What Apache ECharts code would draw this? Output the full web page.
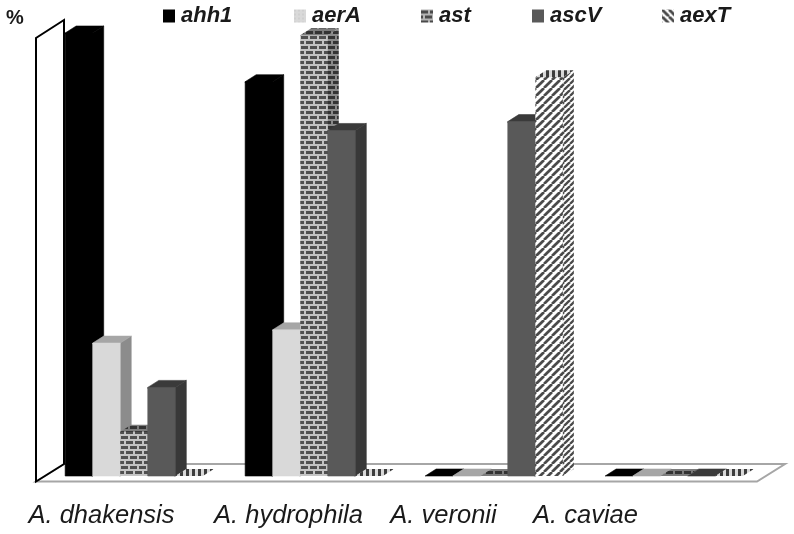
<!DOCTYPE html>
<html>
<head>
<meta charset="utf-8">
<script src="https://cdn.jsdelivr.net/npm/echarts@6/dist/echarts.min.js"></script>
<style>
html,body{margin:0;padding:0;background:#fff}
#c{width:794px;height:534px;filter:blur(0.45px)}
</style>
</head>
<body>
<div id="c"></div>
<script>
const categories = ['A. dhakensis', 'A. hydrophila', 'A. veronii', 'A. caviae'];
const geneNames = ['ahh1', 'aerA', 'ast', 'ascV', 'aexT'];
const ahh1 = [100, 89, 0, 0];
const aerA = [30, 33, 0, 0];
const ast = [10, 99.5, 0, 0];
const ascV = [20, 78, 80, 0];
const aexT = [0, 0, 90, 0];
const seriesValues = [ahh1, aerA, ast, ascV, aexT];
const labelShifts = [32.5, 25.5, 50.5, 88.5];
const legendLeft = [163, 294, 421, 532, 662];

function tile(w, h, bg, draw) {
  const c = document.createElement('canvas');
  c.width = w; c.height = h;
  const g = c.getContext('2d');
  g.fillStyle = bg; g.fillRect(0, 0, w, h);
  draw(g);
  return { image: c, repeat: 'repeat' };
}
function brick(bg, fg) {
  return tile(9, 10, bg, g => {
    g.fillStyle = fg;
    g.fillRect(0, 1, 7, 3);
    g.fillRect(4, 6, 7, 3); g.fillRect(-5, 6, 7, 3);
  });
}
function stripes(n, bg, fg, lw, down) {
  return tile(n, n, bg, g => {
    g.strokeStyle = fg; g.lineWidth = lw;
    for (let k = -1; k <= 1; k++) {
      g.beginPath();
      if (down) { g.moveTo(k * n, 0); g.lineTo(k * n + n, n); }
      else { g.moveTo(k * n, n); g.lineTo(k * n + n, 0); }
      g.stroke();
    }
  });
}
const vbars = tile(6, 6, '#d8d8d8', g => { g.fillStyle = '#3c3c3c'; g.fillRect(0, 0, 3, 6); });

const faces = [
  { front: '#000', top: '#000', side: '#000', legend: '#000' },
  { front: '#d9d9d9', top: '#a6a6a6', side: '#8c8c8c', legend: tile(4, 4, '#d9d9d9', g => { g.fillStyle = '#cfcfcf'; g.fillRect(0, 0, 2, 2); }) },
  { front: brick('#c4c4c4', '#505050'), top: brick('#7c7c7c', '#333333'), side: brick('#8a8a8a', '#333333'), legend: brick('#b4b4b4', '#4a4a4a') },
  { front: '#595959', top: '#3a3a3a', side: '#383838', legend: '#595959' },
  { front: stripes(8, '#ffffff', '#4a4a4a', 2.7, false), top: vbars, side: stripes(6, '#ffffff', '#4a4a4a', 2.3, false), legend: stripes(7, '#ffffff', '#4a4a4a', 2.8, true) }
];

const BAR_RATIO = 0.153, DX = 11, DY = 7;

function barItem(k) {
  return function (params, api) {
    const band = api.size([1, 0])[0];
    const w = band * BAR_RATIO;
    const base = api.coord([api.value(0), 0]);
    const top = api.coord([api.value(0), api.value(1)]);
    const x0 = base[0] - 5 * w / 2 + k * w, x1 = x0 + w;
    const yb = base[1], yt = top[1];
    const poly = (points, fill) => ({
      type: 'polygon', shape: { points },
      style: { fill, stroke: typeof fill === 'string' ? fill : null, lineWidth: 0.6 }
    });
    const f = faces[k];
    const tall = yb - yt > 0.5;
    const children = [];
    // side and top run slightly under the front face so no seam shows between them
    if (tall) children.push(poly([[x1 - 1, yb], [x1, yb], [x1 + DX, yb - DY], [x1 + DX, yt - DY], [x1, yt], [x1 - 1, yt]], f.side));
    children.push(poly([[x0, yt + (tall ? 1 : 0)], [x1, yt + (tall ? 1 : 0)], [x1, yt], [x1 + DX, yt - DY], [x0 + DX, yt - DY], [x0, yt]], f.top));
    if (tall) children.push(poly([[x0, yb], [x1, yb], [x1, yt], [x0, yt]], f.front));
    return { type: 'group', children };
  };
}

function frameItem(params) {
  const cs = params.coordSys;
  const bx = cs.x, by = cs.y + cs.height;
  return {
    type: 'group',
    children: [
      { type: 'polygon', shape: { points: [[bx - 8, by + 5.5], [bx + 713, by + 5.5], [bx + 741, by - 12], [bx + 20, by - 12]] },
        style: { fill: '#fff', stroke: '#a6a6a6', lineWidth: 2 } },
      { type: 'polygon', shape: { points: [[bx - 8, by + 5.5], [bx - 8, cs.y + 5], [bx + 20, cs.y - 13], [bx + 20, by - 12]] },
        style: { fill: '#fff', stroke: '#000', lineWidth: 2 } }
    ]
  };
}

const legendFont = { fontFamily: 'Liberation Sans', fontStyle: 'italic', fontWeight: 'bold', fontSize: 22, color: '#1a1a1a' };

const chart = echarts.init(document.getElementById('c'), null, { renderer: 'canvas' });
chart.setOption({
  animation: false,
  backgroundColor: '#fff',
  grid: { left: 44, right: 30, top: 33, bottom: 58 },
  xAxis: {
    type: 'category',
    data: categories.map((c, i) => ({ value: c, textStyle: { padding: [0, labelShifts[i] * 2, 0, 0] } })),
    axisLine: { show: false }, axisTick: { show: false },
    axisLabel: { interval: 0, margin: 27, fontFamily: 'Liberation Sans', fontStyle: 'italic', fontSize: 25.5, color: '#1a1a1a', hideOverlap: false }
  },
  yAxis: {
    type: 'value', min: 0, max: 100, interval: 20,
    axisLine: { show: false }, axisTick: { show: false }, axisLabel: { show: false }, splitLine: { show: false },
    name: '%', nameLocation: 'end', nameGap: 5,
    nameTextStyle: { fontFamily: 'Liberation Sans', fontWeight: 'bold', fontSize: 20, color: '#1a1a1a', padding: [0, 58, 0, 0] }
  },
  legend: geneNames.map((n, k) => ({
    show: true, left: legendLeft[k], top: 5, padding: 0, itemWidth: 12, itemHeight: 13, itemGap: 0,
    selectedMode: false, textStyle: Object.assign({ padding: [0, 0, 0, 1] }, legendFont),
    data: [{ name: n, icon: 'rect', itemStyle: { color: faces[k].legend } }]
  })),
  series: [
    { type: 'custom', name: 'frame', data: [[0, 0]], renderItem: frameItem, silent: true, z: 1, clip: false, encode: { x: 0, y: 1 } }
  ].concat(geneNames.map((n, k) => ({
    type: 'custom', name: n, z: 2 + k, clip: false,
    data: seriesValues[k].map((v, i) => [i, v]),
    encode: { x: 0, y: 1 },
    renderItem: barItem(k)
  })))
});
</script>
</body>
</html>
